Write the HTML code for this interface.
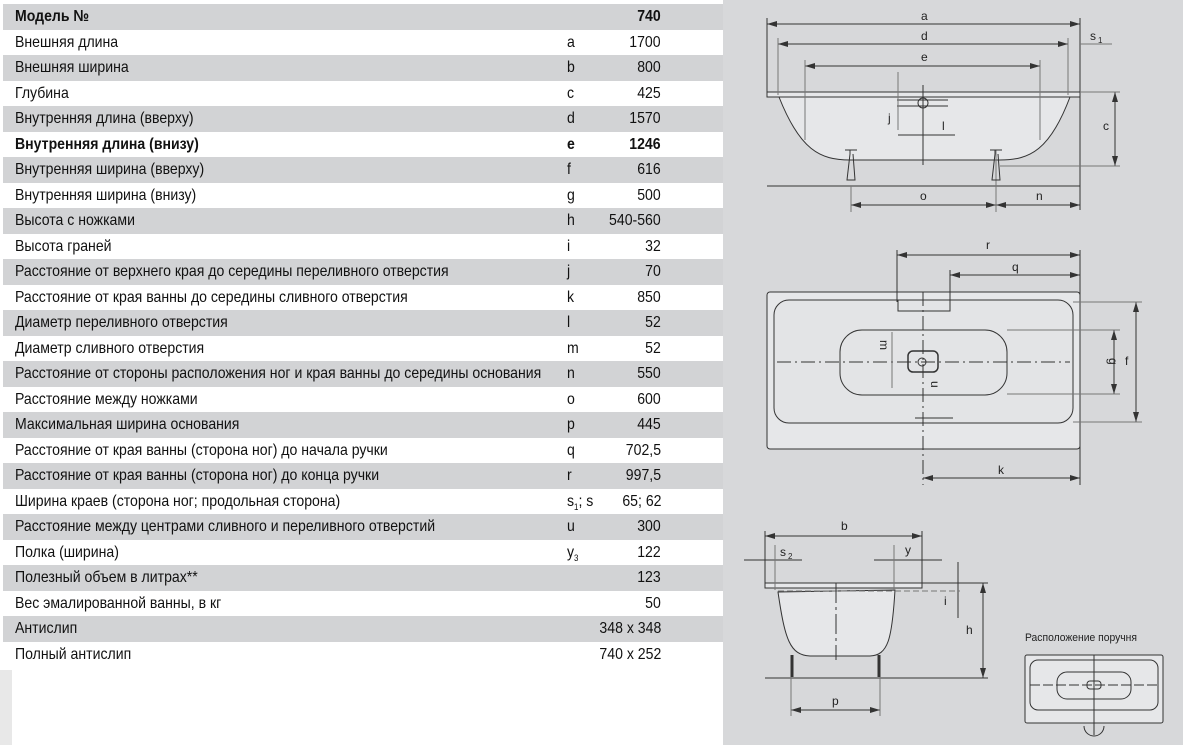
<!DOCTYPE html>
<html><head><meta charset="utf-8"><style>
body{margin:0;width:1183px;height:745px;overflow:hidden;background:#fff;position:relative;font-family:"Liberation Sans",sans-serif;}
.row{position:absolute;left:3px;width:720px;height:25.5px;font-size:16px;line-height:25.5px;color:#111;}
.row.g{background:#d2d3d5}
.row span{position:absolute;white-space:nowrap;transform:scaleX(0.88)}
.l{left:12px;transform-origin:left center}.k{left:564px;transform-origin:left center}.v{right:62px;transform-origin:right center}
.b{font-weight:bold}
#rp{position:absolute;left:723px;top:0;width:460px;height:745px;background:#d7d8da}
#st{position:absolute;left:0;top:670px;width:12px;height:75px;background:#e8e8e8}
svg text{font-family:"Liberation Sans",sans-serif;font-size:12px;fill:#222}
</style></head><body>
<div id="rp"></div><div id="st"></div>
<div class="row g b" style="top:4px"><span class="l">Модель №</span><span class="v">740</span></div>
<div class="row" style="top:29.5px"><span class="l">Внешняя длина</span><span class="k">a</span><span class="v">1700</span></div>
<div class="row g" style="top:55px"><span class="l">Внешняя ширина</span><span class="k">b</span><span class="v">800</span></div>
<div class="row" style="top:80.5px"><span class="l">Глубина</span><span class="k">c</span><span class="v">425</span></div>
<div class="row g" style="top:106px"><span class="l">Внутренняя длина (вверху)</span><span class="k">d</span><span class="v">1570</span></div>
<div class="row b" style="top:131.5px"><span class="l">Внутренняя длина (внизу)</span><span class="k">e</span><span class="v">1246</span></div>
<div class="row g" style="top:157px"><span class="l">Внутренняя ширина (вверху)</span><span class="k">f</span><span class="v">616</span></div>
<div class="row" style="top:182.5px"><span class="l">Внутренняя ширина (внизу)</span><span class="k">g</span><span class="v">500</span></div>
<div class="row g" style="top:208px"><span class="l">Высота с ножками</span><span class="k">h</span><span class="v">540-560</span></div>
<div class="row" style="top:233.5px"><span class="l">Высота граней</span><span class="k">i</span><span class="v">32</span></div>
<div class="row g" style="top:259px"><span class="l">Расстояние от верхнего края до середины переливного отверстия</span><span class="k">j</span><span class="v">70</span></div>
<div class="row" style="top:284.5px"><span class="l">Расстояние от края ванны до середины сливного отверстия</span><span class="k">k</span><span class="v">850</span></div>
<div class="row g" style="top:310px"><span class="l">Диаметр переливного отверстия</span><span class="k">l</span><span class="v">52</span></div>
<div class="row" style="top:335.5px"><span class="l">Диаметр сливного отверстия</span><span class="k">m</span><span class="v">52</span></div>
<div class="row g" style="top:361px"><span class="l">Расстояние от стороны расположения ног и края ванны до середины основания</span><span class="k">n</span><span class="v">550</span></div>
<div class="row" style="top:386.5px"><span class="l">Расстояние между ножками</span><span class="k">o</span><span class="v">600</span></div>
<div class="row g" style="top:412px"><span class="l">Максимальная ширина основания</span><span class="k">p</span><span class="v">445</span></div>
<div class="row" style="top:437.5px"><span class="l">Расстояние от края ванны (сторона ног) до начала ручки</span><span class="k">q</span><span class="v">702,5</span></div>
<div class="row g" style="top:463px"><span class="l">Расстояние от края ванны (сторона ног) до конца ручки</span><span class="k">r</span><span class="v">997,5</span></div>
<div class="row" style="top:488.5px"><span class="l">Ширина краев (сторона ног; продольная сторона)</span><span class="k">s<sub style="font-size:9px">1</sub>; s</span><span class="v">65; 62</span></div>
<div class="row g" style="top:514px"><span class="l">Расстояние между центрами сливного и переливного отверстий</span><span class="k">u</span><span class="v">300</span></div>
<div class="row" style="top:539.5px"><span class="l">Полка (ширина)</span><span class="k">y<sub style="font-size:9px">3</sub></span><span class="v">122</span></div>
<div class="row g" style="top:565px"><span class="l">Полезный объем в литрах**</span><span class="v">123</span></div>
<div class="row" style="top:590.5px"><span class="l">Вес эмалированной ванны, в кг</span><span class="v">50</span></div>
<div class="row g" style="top:616px"><span class="l">Антислип</span><span class="v">348 x 348</span></div>
<div class="row" style="top:641.5px"><span class="l">Полный антислип</span><span class="v">740 x 252</span></div>

<svg style="position:absolute;left:0;top:0" width="1183" height="745" fill="none" stroke="#333" stroke-width="1">
<defs><marker id="m" viewBox="0 0 10 6" refX="10" refY="3" markerWidth="10" markerHeight="6" orient="auto-start-reverse" markerUnits="userSpaceOnUse"><path d="M0 0 L10 3 L0 6 Z" fill="#333" stroke="none"/></marker></defs>
<g marker-start="url(#m)" marker-end="url(#m)">
<line x1="767" y1="24" x2="1080" y2="24"/><line x1="778" y1="44" x2="1068" y2="44"/>
<line x1="805" y1="66" x2="1040" y2="66"/><line x1="1115" y1="92" x2="1115" y2="166"/>
<line x1="851" y1="205" x2="996" y2="205"/><line x1="996" y1="205" x2="1080" y2="205"/>
<line x1="897" y1="255" x2="1080" y2="255"/><line x1="950" y1="275" x2="1080" y2="275"/><line x1="923" y1="478" x2="1080" y2="478"/>
<line x1="1136" y1="302" x2="1136" y2="422"/><line x1="1114" y1="330" x2="1114" y2="394"/>
<line x1="948" y1="363" x2="948" y2="418"/>
<line x1="765" y1="536" x2="922" y2="536"/><line x1="983" y1="583" x2="983" y2="678"/>
<line x1="791" y1="710" x2="880" y2="710"/>
</g>
<path d="M779 97 C800 150 820 160 850 160 L1000 160 C1030 160 1050 150 1070 97 Z" fill="#e6e7e9"/>
<rect x="767" y="92" width="313" height="5" fill="#e6e7e9"/>
<line x1="767" y1="18" x2="767" y2="92"/><line x1="1080" y1="18" x2="1080" y2="210"/>
<line x1="778" y1="38" x2="778" y2="95" stroke="#777"/><line x1="1068" y1="38" x2="1068" y2="95" stroke="#777"/>
<line x1="805" y1="60" x2="805" y2="140" stroke="#777"/><line x1="1040" y1="60" x2="1040" y2="140" stroke="#777"/>
<line x1="1080" y1="44" x2="1112" y2="44" stroke="#777"/>
<line x1="1080" y1="92" x2="1120" y2="92" stroke="#777"/><line x1="1000" y1="166" x2="1120" y2="166" stroke="#777"/>
<line x1="767" y1="186" x2="1080" y2="186"/>
<line x1="851" y1="186" x2="851" y2="212" stroke="#777"/><line x1="996" y1="150" x2="996" y2="212" stroke="#777"/>
<line x1="923" y1="85" x2="923" y2="165"/><line x1="897" y1="100" x2="948" y2="100"/><line x1="897" y1="106" x2="948" y2="106"/><circle cx="923" cy="103" r="5"/>
<line x1="898" y1="72" x2="898" y2="130" stroke="#777"/><line x1="898" y1="135" x2="955" y2="135"/>
<path d="M845 150 h12 M850 150 v4 l-3 26 h8 l-2 -26 M990 150 h12 M995 150 v4 l-3 26 h8 l-2 -26"/>
<text x="921" y="20" stroke="none">a</text><text x="921" y="40" stroke="none">d</text><text x="921" y="61" stroke="none">e</text>
<text x="1090" y="40" stroke="none">s</text><text x="1098" y="43" stroke="none" style="font-size:8px">1</text>
<text x="942" y="130" stroke="none">l</text><text x="888" y="122" stroke="none">j</text>
<text x="1103" y="130" stroke="none">c</text>
<text x="920" y="200" stroke="none">o</text><text x="1036" y="200" stroke="none">n</text>
<rect x="767" y="292" width="313" height="157" rx="3" fill="#e6e7e9"/>
<rect x="774" y="300" width="299" height="123" rx="15" fill="#e3e4e6"/>
<rect x="840" y="330" width="167" height="65" rx="22"/>
<rect x="908" y="351" width="30" height="21" rx="5" stroke-width="1.5"/><circle cx="922" cy="362" r="4"/>
<rect x="898" y="300" width="52" height="11"/>
<line x1="777" y1="362" x2="1070" y2="362" stroke-dasharray="14 4 2 4"/>
<line x1="923" y1="292" x2="923" y2="485" stroke-dasharray="14 4 2 4"/>
<line x1="897" y1="250" x2="897" y2="302"/><line x1="950" y1="270" x2="950" y2="302"/><line x1="1080" y1="250" x2="1080" y2="485"/>
<line x1="1073" y1="302" x2="1142" y2="302" stroke="#777"/><line x1="1073" y1="422" x2="1142" y2="422" stroke="#777"/>
<line x1="1007" y1="330" x2="1120" y2="330" stroke="#777"/><line x1="1007" y1="394" x2="1120" y2="394" stroke="#777"/>
<line x1="915" y1="418" x2="953" y2="418"/>
<line x1="892" y1="332" x2="892" y2="388" stroke="#777"/>
<text x="986" y="249" stroke="none">r</text><text x="1012" y="271" stroke="none">q</text><text x="998" y="474" stroke="none">k</text>
<text x="1108" y="365" stroke="none" transform="rotate(90 1112 362)">g</text><text x="1125" y="365" stroke="none">f</text>
<text x="880" y="348" stroke="none" transform="rotate(90 884 344)">m</text><text x="930" y="388" stroke="none" transform="rotate(90 934 385)">u</text>
<path d="M778 592 C785 640 790 655 810 656 L870 656 C888 655 892 640 895 590 Z" fill="#e6e7e9"/>
<rect x="765" y="583" width="157" height="5" fill="#e6e7e9"/>
<line x1="765" y1="531" x2="765" y2="583"/><line x1="922" y1="531" x2="922" y2="583"/>
<line x1="744" y1="560" x2="802" y2="560"/><line x1="775" y1="545" x2="775" y2="590" stroke="#777"/>
<line x1="874" y1="560" x2="942" y2="560"/><line x1="894" y1="545" x2="894" y2="590" stroke="#777"/>
<line x1="922" y1="583" x2="988" y2="583"/><line x1="765" y1="678" x2="988" y2="678"/>
<line x1="958" y1="562" x2="958" y2="618"/>
<line x1="778" y1="591" x2="960" y2="591" stroke-dasharray="6 3" stroke="#777"/>
<line x1="836" y1="583" x2="836" y2="660" stroke-dasharray="20 4 3 4"/>
<line x1="791" y1="660" x2="791" y2="716" stroke="#777"/><line x1="880" y1="660" x2="880" y2="716" stroke="#777"/>
<path d="M792 655 v22 M879 655 v22" stroke-width="3"/>
<text x="841" y="530" stroke="none">b</text><text x="780" y="556" stroke="none">s</text><text x="788" y="559" stroke="none" style="font-size:8px">2</text>
<text x="905" y="554" stroke="none">y</text><text x="944" y="605" stroke="none">i</text><text x="966" y="634" stroke="none">h</text>
<text x="832" y="705" stroke="none">p</text>
<text x="1025" y="641" stroke="none" style="font-size:11px" textLength="112" lengthAdjust="spacingAndGlyphs">Расположение поручня</text>
<rect x="1025" y="655" width="138" height="68" rx="2" fill="#e6e7e9"/>
<rect x="1030" y="660" width="128" height="50" rx="8"/>
<rect x="1057" y="672" width="74" height="27" rx="10"/>
<line x1="1030" y1="685" x2="1158" y2="685" stroke-dasharray="10 3"/>
<line x1="1094" y1="655" x2="1094" y2="735"/>
<rect x="1087" y="681" width="14" height="8" rx="3"/>
<path d="M1084 726 a10 10 0 0 0 20 0"/>
</svg>
</body></html>
